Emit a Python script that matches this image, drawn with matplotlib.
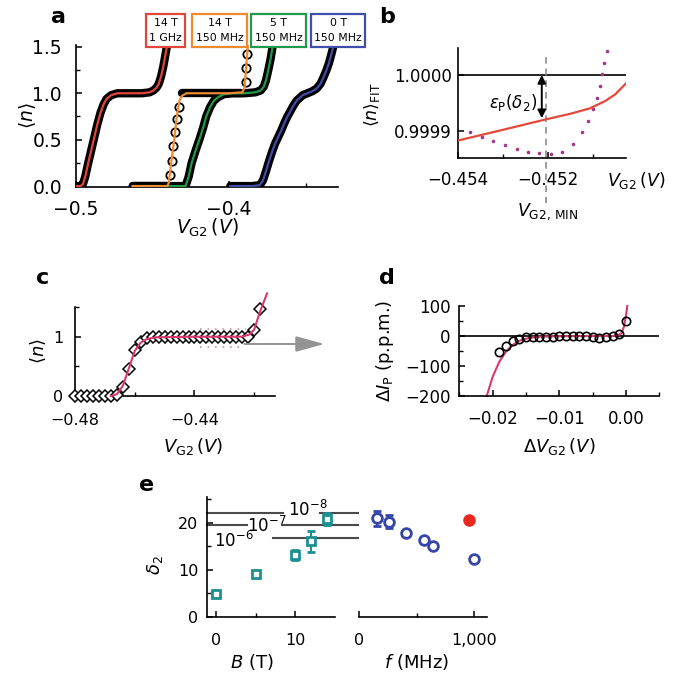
import numpy as np
import matplotlib
matplotlib.use('Agg')
import matplotlib.pyplot as plt
from matplotlib.ticker import MultipleLocator, FixedLocator, FixedFormatter, FuncFormatter

plt.rcParams['font.family'] = ['DejaVu Sans']
plt.rcParams['mathtext.fontset'] = 'dejavusans'
plt.rcParams['axes.linewidth'] = 1.2
plt.rcParams['xtick.direction'] = 'in'
plt.rcParams['ytick.direction'] = 'in'
plt.rcParams['xtick.major.width'] = 1.1
plt.rcParams['ytick.major.width'] = 1.1
plt.rcParams['xtick.minor.width'] = 1.0
plt.rcParams['ytick.minor.width'] = 1.0
plt.rcParams['xtick.major.size'] = 4
plt.rcParams['ytick.major.size'] = 4
plt.rcParams['xtick.minor.size'] = 3
plt.rcParams['ytick.minor.size'] = 3

# ---------------- panel a: pumped current plateaus ----------------
red_x = [-0.500, -0.497, -0.4955, -0.494, -0.492, -0.490, -0.488, -0.486, -0.484, -0.482, -0.480,
         -0.477, -0.473, -0.465, -0.457, -0.452, -0.4495, -0.4475, -0.446, -0.4445, -0.443, -0.4418, -0.4405]
red_y = [0.00, 0.00, 0.02, 0.10, 0.25, 0.39, 0.53, 0.67, 0.79, 0.88, 0.94,
         0.98, 1.00, 1.00, 1.00, 1.01, 1.03, 1.06, 1.10, 1.18, 1.29, 1.40, 1.52]

orange_x = [-0.463, -0.450, -0.4405, -0.4395, -0.4379, -0.4359, -0.4342, -0.4325, -0.431, -0.428,
            -0.415, -0.400, -0.3915, -0.390, -0.3893, -0.3885, -0.3878]
orange_y = [0.0, 0.0, 0.0, 0.03, 0.25, 0.50, 0.75, 0.92, 0.97, 1.0,
            1.0, 1.0, 1.01, 1.06, 1.20, 1.38, 1.52]
orange_lo_x = [-0.463, -0.4405]
orange_lo_y = [0.0, 0.0]
orange_hi_x = [-0.431, -0.392]
orange_hi_y = [1.0, 1.0]
orange_dot_x = [-0.4388, -0.4376, -0.4364, -0.4352, -0.4341, -0.4330, -0.3893, -0.3889, -0.3884]
orange_dot_y = [0.12, 0.27, 0.43, 0.58, 0.72, 0.85, 1.12, 1.27, 1.42]

green_x = [-0.463, -0.440, -0.4285, -0.4265, -0.4245, -0.422, -0.4195, -0.417, -0.415, -0.4125, -0.410,
           -0.407, -0.4035, -0.398, -0.390, -0.383, -0.3795, -0.3775, -0.376, -0.3745, -0.373, -0.3715]
green_y = [0.0, 0.0, 0.0, 0.10, 0.25, 0.38, 0.50, 0.63, 0.75, 0.85, 0.92,
           0.96, 0.99, 1.00, 1.00, 1.01, 1.03, 1.07, 1.14, 1.25, 1.37, 1.52]

blue_x = [-0.3993, -0.385, -0.380, -0.378, -0.376, -0.374, -0.372, -0.370, -0.368, -0.366, -0.364, -0.362,
          -0.360, -0.358, -0.356, -0.354, -0.352, -0.349, -0.346, -0.343, -0.3405, -0.3385, -0.3365,
          -0.335, -0.3335, -0.3318]
blue_y = [0.0, 0.0, 0.01, 0.06, 0.16, 0.27, 0.37, 0.46, 0.53, 0.60, 0.68, 0.75,
          0.81, 0.87, 0.92, 0.95, 0.98, 1.00, 1.02, 1.05, 1.10, 1.17, 1.25,
          1.32, 1.41, 1.52]

box_labels = ['14 T\n1 GHz', '14 T\n150 MHz', '5 T\n150 MHz', '0 T\n150 MHz']
box_colors = ['#e2463a', '#ef8a2e', '#1f9a4a', '#3f4ea8']

# ---------------- panel b: zoom on the plateau ----------------
b_fit_x = [-0.454, -0.453067, -0.452, -0.451511, -0.451067, -0.450733, -0.450511, -0.450267]
b_fit_y = [0.999882, 0.999900, 0.999921, 0.999930, 0.999940, 0.999953, 0.999965, 0.999985]
b_dot_x = [-0.453733, -0.453460, -0.453216, -0.452956, -0.452696, -0.452438, -0.452193, -0.451933,
           -0.451682, -0.451438, -0.451238, -0.451104, -0.451007, -0.450918, -0.450844, -0.450793,
           -0.450749, -0.450696]
b_dot_y = [0.999897, 0.999888, 0.999882, 0.999874, 0.999867, 0.999862, 0.999859, 0.999858,
           0.999862, 0.999876, 0.999898, 0.999918, 0.999938, 0.999959, 0.999981, 1.000001,
           1.000022, 1.000044]
v_min = -0.45205
eps_top = 1.0
eps_bot = 0.999922

# ---------------- panel c: single measured curve ----------------
c_x = [-0.480, -0.478, -0.476, -0.474, -0.472, -0.470, -0.468, -0.466, -0.464, -0.462, -0.460,
       -0.458, -0.456, -0.454, -0.452, -0.450, -0.448, -0.446, -0.444, -0.442, -0.440, -0.438,
       -0.436, -0.434, -0.432, -0.430, -0.428, -0.426, -0.424, -0.422, -0.420, -0.418]
c_y = [0, 0, 0, 0, 0, 0, 0, 0.02, 0.16, 0.45, 0.77,
       0.91, 0.97, 0.99, 1.0, 1.0, 1.0, 1.0, 1.0, 1.0, 1.0, 1.0,
       1.0, 1.0, 1.0, 1.0, 1.0, 1.0, 1.0, 1.0, 1.11, 1.46]
c_fit_x = [-0.468, -0.466, -0.464, -0.462, -0.460, -0.458, -0.456, -0.453, -0.440, -0.424, -0.4215,
           -0.420, -0.418, -0.4157]
c_fit_y = [0.0, 0.03, 0.17, 0.46, 0.76, 0.90, 0.96, 0.99, 1.0, 1.0, 1.04, 1.12, 1.43, 1.73]

# ---------------- panel d: deviation in p.p.m. ----------------
d_x = [-0.019, -0.018, -0.017, -0.016, -0.015, -0.014, -0.013, -0.012, -0.011, -0.010,
       -0.009, -0.008, -0.007, -0.006, -0.005, -0.004, -0.003, -0.002, -0.001, 0.000]
d_y = [-52, -33, -17, -10, -4, -4, -2, -2, -3, -1,
       -1, -1, -1, -1, -2, -6, -3, -1, 6, 50]
d_fit_x = [-0.02088, -0.0200, -0.0190, -0.0180, -0.0170, -0.0160, -0.0150, -0.0135, -0.0110,
           -0.0060, -0.0020, -0.0012, -0.0007, -0.0003, 0.00005, 0.0002]
d_fit_y = [-200, -136, -86, -52, -30, -16, -9, -3, -1, 0, 0, 2, 9, 31, 75, 100]

# ---------------- panel e: delta_2 vs B and f ----------------
e_B = [0, 5, 10, 12, 14]
e_B_d2 = [4.9, 9.0, 13.1, 16.0, 20.8]
e_B_err = [0.5, 0.4, 1.1, 2.2, 1.3]
e_f = [150, 260, 410, 560, 645, 1000]
e_f_d2 = [20.9, 20.2, 17.9, 16.3, 15.1, 12.3]
e_f_err = [1.6, 1.4, 0.0, 0.7, 0.0, 0.0]
e_red_f = [955]
e_red_d2 = [20.6]
eps_levels = [22.1, 19.45, 16.8]
eps_names = ['$10^{-8}$', '$10^{-7}$', '$10^{-6}$']

W, H = 678, 676
fig = plt.figure(figsize=(W / 100, H / 100), dpi=100)


def box(l, r, t, b):
    return [l / W, 1 - b / H, (r - l) / W, (b - t) / H]


def clean(ax):
    ax.spines['top'].set_visible(False)
    ax.spines['right'].set_visible(False)


# ===== a =====
ax = fig.add_axes(box(76, 338, 45, 187))
clean(ax)
for xs, ys, col in [(red_x, red_y, box_colors[0]), (green_x, green_y, box_colors[2]),
                    (blue_x, blue_y, box_colors[3])]:
    ax.plot(xs, ys, color='black', lw=6, solid_capstyle='round', solid_joinstyle='round', zorder=2)
    ax.plot(xs, ys, color=col, lw=1.6, zorder=4)
for xs, ys in [(orange_lo_x, orange_lo_y), (orange_hi_x, orange_hi_y)]:
    ax.plot(xs, ys, color='black', lw=6, solid_capstyle='round', zorder=2)
ax.plot(orange_dot_x, orange_dot_y, 'o', ms=6, mfc='white', mec='black', mew=1.3, zorder=3)
ax.plot(orange_x, orange_y, color=box_colors[1], lw=1.6, zorder=4)
ax.set_xlim(-0.5, -0.329)
ax.set_ylim(-0.01, 1.52)
ax.xaxis.set_major_locator(FixedLocator([-0.5, -0.4]))
ax.xaxis.set_minor_locator(FixedLocator([-0.45, -0.35]))
ax.yaxis.set_major_locator(FixedLocator([0.0, 0.5, 1.0, 1.5]))
ax.yaxis.set_minor_locator(FixedLocator([0.25, 0.75, 1.25]))
ax.yaxis.set_major_formatter(FuncFormatter(lambda v, p: f'{v:.1f}'))
ax.xaxis.set_major_formatter(FuncFormatter(lambda v, p: f'{v:.1f}'.replace('-', '\u2212')))
ax.tick_params(labelsize=13.5)
ax.tick_params(axis='x', pad=9.5)
ax.tick_params(axis='y', pad=10)
ax.set_xlabel(r'$V_{\rm G2}\,(V)$', fontsize=13.5)
ax.set_ylabel(r'$\langle n\rangle$', fontsize=13.5)
ax.xaxis.set_label_coords(0.5, -0.29)
ax.yaxis.set_label_coords(-0.183, 0.5)
ax.xaxis.label.set_va('center')
ax.yaxis.label.set_va('center')
for lab, col, cx in zip(box_labels, box_colors, [165.5, 219.5, 278.5, 338]):
    fig.text(cx / W, 1 - 30.5 / H, lab, fontsize=7.8, ha='center', va='center', linespacing=1.7,
             bbox=dict(boxstyle='square,pad=0.32', fc='white', ec=col, lw=1.6))

# ===== b =====
ax = fig.add_axes(box(458, 626, 48, 158.3))
clean(ax)
ax.axhline(1.0, color='black', lw=1.2, zorder=1)
ax.plot(b_dot_x, b_dot_y, 'o', ms=2.6, color='#a2388c', mec='none', zorder=2, clip_on=False)
ax.plot(b_fit_x, b_fit_y, color='#e4483a', lw=1.6, zorder=3)
ax.plot([v_min, v_min], [1.000033, 0.99977], color='#8c8c8c', lw=1.2, ls=(0, (4, 3)),
        clip_on=False, zorder=1)
ax.annotate('', xy=(v_min - 0.00009, eps_top), xytext=(v_min - 0.00009, eps_bot),
            arrowprops=dict(arrowstyle='<|-|>', color='black', lw=1.4, mutation_scale=12,
                            shrinkA=0, shrinkB=0), zorder=4)
ax.text(-0.452778, 0.999951, r'$\varepsilon_{\rm P}(\delta_2)$', fontsize=12, ha='center', va='center')
ax.set_xlim(-0.454, -0.45027)
ax.set_ylim(0.99985, 1.0000485)
ax.xaxis.set_major_locator(FixedLocator([-0.454, -0.452]))
ax.xaxis.set_minor_locator(FixedLocator([-0.453, -0.451]))
ax.xaxis.set_major_formatter(FixedFormatter(['\u22120.454', '\u22120.452']))
ax.yaxis.set_major_locator(FixedLocator([0.9999, 1.0]))
ax.yaxis.set_major_formatter(FixedFormatter(['0.9999', '1.0000']))
ax.tick_params(labelsize=12)
ax.tick_params(axis='x', pad=9)
ax.tick_params(axis='y', pad=4.5)
ax.set_ylabel(r'$\langle n\rangle_{\rm FIT}$', fontsize=12.5)
ax.yaxis.set_label_coords(-0.512, 0.483)
ax.yaxis.label.set_va('center')
ax.text(1.06, -0.2, r'$V_{\rm G2}\,(V)$', fontsize=12.5, ha='center', va='center', transform=ax.transAxes)
ax.text(0.536, -0.487, r'$V_{\rm G2,\,MIN}$', fontsize=12.5, ha='center', va='center', transform=ax.transAxes)

# ===== c =====
pink = '#d9386e'
ax = fig.add_axes(box(75, 275, 306.7, 396))
clean(ax)
ax.plot(c_x, c_y, 'D', ms=6, mfc='white', mec='black', mew=1.1, zorder=3, clip_on=False)
ax.plot(c_fit_x, c_fit_y, color=pink, lw=1.5, zorder=4, clip_on=False)
ax.plot([-0.4383, -0.4226], [1.125, 1.125], color='#c49aa6', lw=1.2, ls=(0, (1, 3.5)), zorder=2)
ax.plot([-0.4383, -0.4245], [0.83, 0.83], color='#c49aa6', lw=1.2, ls=(0, (1, 3.5)), zorder=2)
ax.annotate('', xy=(-0.3965, 0.877), xytext=(-0.4233, 0.877),
            arrowprops=dict(arrowstyle='-|>,head_length=1.1,head_width=0.3', color='#939393', lw=1.4,
                            mutation_scale=16, shrinkA=0, shrinkB=0), annotation_clip=False)
ax.set_xlim(-0.48, -0.41304)
ax.set_ylim(0, 1.506)
ax.xaxis.set_major_locator(FixedLocator([-0.48, -0.44]))
ax.xaxis.set_minor_locator(FixedLocator([-0.46, -0.42]))
ax.xaxis.set_major_formatter(FixedFormatter(['\u22120.48', '\u22120.44']))
ax.yaxis.set_major_locator(FixedLocator([0, 1]))
ax.yaxis.set_minor_locator(FixedLocator([0.5, 1.5]))
ax.tick_params(labelsize=11.5)
ax.tick_params(axis='x', pad=12)
ax.tick_params(axis='y', pad=8.5)
ax.set_xlabel(r'$V_{\rm G2}\,(V)$', fontsize=13)
ax.set_ylabel(r'$\langle n\rangle$', fontsize=13)
ax.xaxis.set_label_coords(0.59, -0.57)
ax.yaxis.set_label_coords(-0.185, 0.5)
ax.xaxis.label.set_va('center')
ax.yaxis.label.set_va('center')

# ===== d =====
ax = fig.add_axes(box(459.3, 659.3, 306, 396))
clean(ax)
ax.axhline(0, color='black', lw=1.2, zorder=1)
ax.plot(d_fit_x, d_fit_y, color=pink, lw=1.5, zorder=2, clip_on=False)
ax.plot(d_x, d_y, 'o', ms=6, mfc='none', mec='black', mew=1.2, zorder=3)
ax.set_xlim(-0.025, 0.005)
ax.set_ylim(-200, 100)
ax.xaxis.set_major_locator(FixedLocator([-0.02, -0.01, 0.0]))
ax.xaxis.set_minor_locator(FixedLocator([-0.025, -0.015, -0.005, 0.005]))
ax.xaxis.set_major_formatter(FuncFormatter(lambda v, p: f'{v:.2f}'.replace('-', '\u2212')))
ax.yaxis.set_major_locator(MultipleLocator(100))
ax.yaxis.set_minor_locator(MultipleLocator(50))
ax.yaxis.set_major_formatter(FuncFormatter(lambda v, p: f'{v:.0f}'.replace('-', '\u2212')))
ax.tick_params(labelsize=12)
ax.tick_params(axis='x', pad=10)
ax.tick_params(axis='y', pad=6.5)
ax.set_xlabel(r'$\Delta V_{\rm G2}\,(V)$', fontsize=13)
ax.set_ylabel(r'$\Delta I_{\rm P}$ (p.p.m.)', fontsize=13)
ax.xaxis.set_label_coords(0.5, -0.563)
ax.yaxis.set_label_coords(-0.37, 0.5)
ax.xaxis.label.set_va('center')
ax.yaxis.label.set_va('center')

# ===== e =====
teal = '#1c9090'
navy = '#3545a8'
axl = fig.add_axes(box(207.3, 335, 497, 616.7))
clean(axl)
axr = fig.add_axes(box(359.3, 487.3, 497, 616.7))
clean(axr)
axr.spines['left'].set_visible(False)
axr.tick_params(left=False, labelleft=False)

segs = [[(-1.1, 8.5), (13.2, 34.05)], [(-1.1, 3.9), (8.3, 33.8)], [(7.25, 34.05)]]
for lev, sl in zip(eps_levels, segs):
    for x0, x1 in sl:
        axl.plot([x0, x1], [lev, lev], color='#4a4a4a', lw=1.5, clip_on=False, zorder=1)
for name, (tx, ty) in zip(eps_names, [(11.6, 22.7), (6.42, 19.35), (2.2, 16.15)]):
    axl.text(tx, ty, name, fontsize=12, ha='center', va='center', zorder=2)

axl.errorbar(e_B, e_B_d2, yerr=e_B_err, fmt='s', ms=6, mfc='white', mec=teal, mew=2,
             ecolor=teal, elinewidth=1.5, capsize=3, capthick=1.5, zorder=3, clip_on=False)
axr.errorbar(e_f, e_f_d2, yerr=e_f_err, fmt='o', ms=7, mfc='white', mec=navy, mew=2,
             ecolor=navy, elinewidth=1.5, capsize=3, capthick=1.5, zorder=3)
axr.plot(e_red_f, e_red_d2, 'o', ms=8, color='#e8281e', zorder=3)

axl.set_xlim(-1.1, 15.06)
axl.set_ylim(0, 25.45)
axr.set_xlim(0, 1116)
axr.set_ylim(0, 25.45)
axl.xaxis.set_major_locator(FixedLocator([0, 10]))
axl.xaxis.set_minor_locator(FixedLocator([5]))
axl.yaxis.set_major_locator(FixedLocator([0, 10, 20]))
axl.yaxis.set_minor_locator(FixedLocator([5, 15, 25]))
axr.xaxis.set_major_locator(FixedLocator([0, 1000]))
axr.xaxis.set_minor_locator(FixedLocator([500]))
axr.xaxis.set_major_formatter(FixedFormatter(['0', '1,000']))
for a in (axl, axr):
    a.tick_params(labelsize=11.5)
    a.tick_params(axis='x', pad=12)
axl.tick_params(axis='y', pad=6.5)
axl.set_xlabel(r'$B$ (T)', fontsize=13)
axr.set_xlabel(r'$f$ (MHz)', fontsize=13)
axl.set_ylabel(r'$\delta_2$', fontsize=13)
axl.xaxis.set_label_coords(0.35, -0.378)
axr.xaxis.set_label_coords(0.45, -0.378)
axl.yaxis.set_label_coords(-0.41, 0.43)
for a in (axl, axr):
    a.xaxis.label.set_va('center')
axl.yaxis.label.set_va('center')

# panel letters
for letter, px, py in [('a', 58, 17), ('b', 387, 17), ('c', 43, 278), ('d', 387, 278), ('e', 147, 485)]:
    fig.text(px / W, 1 - py / H, letter, fontsize=16, fontweight='bold', ha='center', va='center')

fig.savefig('out.png', dpi=100)
